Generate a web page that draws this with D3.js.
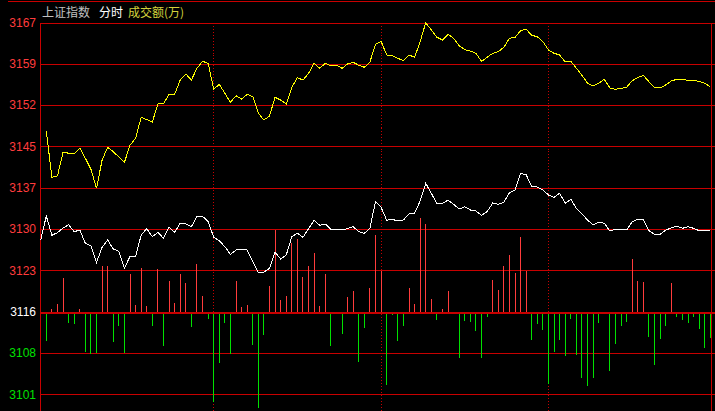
<!DOCTYPE html>
<html>
<head>
<meta charset="utf-8">
<script src="https://cdn.jsdelivr.net/npm/d3@7"></script>
<style>
  html, body { margin: 0; padding: 0; background: #000; overflow: hidden; }
  svg { display: block; }
  .axis text { font-family: "Liberation Sans", Arial, sans-serif; font-size: 12px; }
  .title { font-family: "Noto Sans CJK SC", sans-serif; font-size: 12px; }
</style>
</head>
<body>
<div class="chart"></div>
<script>
// price axis: values of each gridline and the label shown for it (bottom to top)
var tickValues = [3100.95, 3108.25, 3115.55, 3122.85, 3130.15, 3137.45, 3144.75, 3152.05, 3159.35, 3166.65];
var tickLabels = ["3101", "3108", "3116", "3123", "3130", "3137", "3145", "3152", "3159", "3167"];
var baseValue = 3115.55;

// minutes after the open where the session markers sit
var sessionMarks = [60, 120, 180];

// yellow line [minute, value]
var yellowLine = [[0,3147.48],[2,3139.30],[4,3139.53],[6,3143.71],[10,3143.41],[12,3144.47],[14,3142.65],[16,3140.71],[18,3137.35],[20,3142.35],[22,3144.60],[24,3143.82],[28,3141.95],[30,3144.95],[32,3146.19],[34,3149.90],[38,3149.07],[40,3152.25],[42,3152.25],[44,3153.96],[46,3153.96],[48,3156.49],[50,3157.55],[52,3156.49],[54,3158.56],[56,3159.79],[58,3159.44],[60,3154.85],[62,3155.73],[64,3154.14],[66,3152.55],[68,3153.71],[70,3153.13],[72,3153.96],[74,3153.54],[76,3150.60],[78,3149.42],[80,3150.13],[82,3153.43],[84,3152.95],[86,3152.25],[88,3155.20],[90,3156.90],[92,3156.49],[94,3157.67],[96,3159.44],[98,3158.56],[100,3159.44],[102,3158.96],[104,3159.09],[106,3158.56],[108,3159.32],[110,3159.62],[112,3159.09],[114,3158.73],[116,3159.67],[118,3162.80],[120,3163.33],[122,3160.91],[124,3160.78],[126,3160.32],[128,3159.90],[130,3160.91],[132,3160.50],[134,3163.26],[136,3166.61],[138,3165.32],[140,3164.05],[142,3163.56],[144,3164.56],[146,3163.86],[148,3162.55],[150,3161.84],[152,3161.61],[154,3161.21],[156,3159.79],[158,3160.50],[160,3161.21],[162,3161.49],[164,3162.27],[166,3163.86],[168,3164.03],[170,3165.20],[172,3165.45],[174,3164.39],[176,3164.14],[178,3163.26],[180,3161.79],[182,3161.21],[184,3160.91],[186,3159.67],[188,3159.79],[190,3158.56],[192,3157.32],[194,3155.91],[196,3155.43],[198,3155.91],[200,3156.61],[202,3155.08],[204,3154.85],[206,3155.02],[208,3155.20],[210,3156.37],[212,3156.90],[214,3157.32],[216,3156.19],[218,3155.20],[220,3155.08],[222,3155.61],[224,3156.31],[226,3156.61],[228,3156.61],[230,3156.44],[232,3156.37],[234,3156.26],[236,3155.91],[238,3155.31]];

// white line [minute, value]
var whiteLine = [[-2,3128.22],[0,3132.46],[2,3129.05],[4,3129.51],[6,3130.34],[8,3130.92],[10,3129.68],[12,3129.98],[14,3127.63],[16,3127.21],[18,3124.27],[20,3126.93],[22,3128.22],[24,3126.62],[26,3126.22],[28,3123.21],[30,3125.33],[32,3125.26],[34,3129.10],[36,3130.21],[38,3128.80],[40,3129.58],[42,3128.52],[44,3130.46],[46,3129.58],[48,3131.17],[50,3131.04],[52,3130.57],[54,3132.40],[56,3132.40],[58,3131.48],[60,3128.69],[62,3128.09],[64,3127.03],[66,3125.69],[68,3126.45],[72,3126.45],[74,3124.38],[76,3122.51],[78,3122.56],[80,3123.21],[82,3126.04],[84,3124.86],[86,3125.56],[88,3128.80],[90,3129.40],[92,3128.69],[94,3130.21],[96,3131.70],[98,3130.81],[100,3131.04],[102,3130.11],[107,3130.11],[110,3130.57],[112,3129.68],[114,3129.40],[116,3130.28],[118,3135.05],[120,3133.99],[122,3131.70],[124,3131.87],[126,3131.57],[128,3131.75],[130,3132.81],[132,3132.93],[134,3135.11],[136,3138.23],[138,3136.47],[140,3134.61],[142,3134.70],[144,3135.28],[146,3134.52],[148,3133.69],[150,3134.10],[152,3133.52],[154,3133.34],[156,3132.60],[158,3133.22],[160,3134.75],[162,3134.52],[164,3134.88],[166,3136.57],[168,3137.05],[170,3140.00],[172,3139.75],[174,3137.63],[176,3137.58],[178,3137.05],[180,3136.17],[182,3135.76],[184,3136.47],[186,3134.70],[188,3135.41],[190,3133.82],[192,3132.81],[194,3131.75],[196,3130.87],[198,3131.34],[200,3131.17],[202,3129.81],[204,3130.11],[206,3130.11],[208,3129.98],[210,3131.45],[212,3131.87],[214,3131.87],[216,3129.86],[218,3129.22],[220,3129.22],[222,3129.98],[226,3130.69],[228,3130.28],[230,3130.57],[232,3130.28],[234,3129.86],[236,3129.98],[238,3129.98]];

// bars, one every 2 minutes, measured from the base line (+ red, - green)
var barValues = [-5.2,0.4,1.3,5.9,-2.0,-2.2,0.4,-7.1,-7.5,-7.3,
  8.1,8.0,-5.3,-2.5,-7.3,6.6,1.2,7.7,1.0,-2.5,
  7.5,-6.0,5.4,1.5,6.6,5.0,-2.7,8.4,2.7,-1.3,
  -15.9,-9.0,-2.0,-7.5,5.4,0.8,1.1,-5.9,-17.0,-4.1,
  4.5,14.5,2.0,2.7,12.1,12.8,6.2,8.0,10.3,1.0,
  6.6,-6.0,0,-3.9,2.6,3.6,-8.9,-2.9,4.2,13.5,
  7.2,-12.9,-0.6,-5.2,-2.5,4.2,1.3,16.5,15.5,2.2,
  -1.4,0.4,3.7,-0.4,-8.1,-1.6,-1.8,-3.4,-8.2,-0.9,
  5.6,3.8,8.1,10.0,6.8,13.2,7.2,-5.0,-2.2,-3.2,
  -12.8,-7.1,-5.0,-7.8,-1.3,-7.6,-11.7,-13.1,-11.7,-2.0,
  -0.2,-10.5,-5.7,-2.5,-1.8,9.3,5.4,5.2,-4.5,-9.4,
  -4.8,-2.5,5.0,-0.9,-1.4,-2.0,-0.9,-3.0,-6.4,-4.6];
var barMinutes = d3.range(0, 240, 2);

var svgWidth = 715;
var svgHeight = 411;
var plotLeft = 40;
var plotRight = 711;
var gridRed = "#c80000";

var svg = d3.select(".chart")
  .append("svg")
  .attr("width", svgWidth)
  .attr("height", svgHeight)
  .style("background", "#000");

// scales
var xScale = d3.scaleLinear().domain([0, 240]).range([46.3, 715.9]);
var yScale = d3.scaleLinear().domain([tickValues[0], tickValues[9]]).range([394.3, 22.5]);

// top frame line
svg.append("line")
  .attr("x1", 8).attr("x2", svgWidth)
  .attr("y1", 1.5).attr("y2", 1.5)
  .attr("stroke", gridRed)
  .attr("shape-rendering", "crispEdges");

// horizontal gridlines
svg.append("g")
  .selectAll("line")
  .data(tickValues)
  .enter()
  .append("line")
  .attr("x1", plotLeft)
  .attr("x2", svgWidth)
  .attr("y1", function(d) { return Math.round(yScale(d)) + 0.5; })
  .attr("y2", function(d) { return Math.round(yScale(d)) + 0.5; })
  .attr("stroke", gridRed)
  .attr("shape-rendering", "crispEdges");

// dotted session markers
svg.append("g")
  .selectAll("line")
  .data(sessionMarks)
  .enter()
  .append("line")
  .attr("x1", function(d) { return Math.floor(xScale(d)) + 0.5; })
  .attr("x2", function(d) { return Math.floor(xScale(d)) + 0.5; })
  .attr("y1", yScale(tickValues[9]))
  .attr("y2", svgHeight)
  .attr("stroke", gridRed)
  .attr("stroke-dasharray", "1,2")
  .attr("shape-rendering", "crispEdges");

// left and right borders
svg.append("g")
  .selectAll("line")
  .data([plotLeft, plotRight])
  .enter()
  .append("line")
  .attr("x1", function(d) { return d + 0.5; })
  .attr("x2", function(d) { return d + 0.5; })
  .attr("y1", yScale(tickValues[9]))
  .attr("y2", svgHeight)
  .attr("stroke", gridRed)
  .attr("shape-rendering", "crispEdges");

// bars
var baseY = yScale(baseValue);
svg.append("g")
  .selectAll("rect")
  .data(barValues)
  .enter()
  .append("rect")
  .attr("x", function(d, i) { return Math.floor(xScale(barMinutes[i])); })
  .attr("width", 1)
  .attr("y", function(d) { return d >= 0 ? yScale(baseValue + d) : baseY; })
  .attr("height", function(d) { return Math.abs(yScale(baseValue + d) - baseY); })
  .attr("fill", function(d) { return d >= 0 ? "#ff3c3c" : "#00e000"; })
  .attr("shape-rendering", "crispEdges");

// thick base line
svg.append("rect")
  .attr("x", plotLeft)
  .attr("width", svgWidth - plotLeft)
  .attr("y", Math.round(baseY))
  .attr("height", 2)
  .attr("fill", gridRed)
  .attr("shape-rendering", "crispEdges");

// price lines
var line = d3.line()
  .x(function(d) { return xScale(d[0]); })
  .y(function(d) { return yScale(d[1]); });

svg.append("path")
  .datum(whiteLine)
  .attr("d", line)
  .attr("fill", "none")
  .attr("stroke", "#ffffff")
  .attr("stroke-width", 1)
  .attr("shape-rendering", "crispEdges");

svg.append("path")
  .datum(yellowLine)
  .attr("d", line)
  .attr("fill", "none")
  .attr("stroke", "#ffff00")
  .attr("stroke-width", 1)
  .attr("shape-rendering", "crispEdges");

// left axis labels
var leftAxis = d3.axisLeft(yScale)
  .tickValues(tickValues)
  .tickSize(0)
  .tickPadding(4)
  .tickFormat(function(d, i) { return tickLabels[i]; });

var axisG = svg.append("g")
  .attr("class", "axis")
  .attr("transform", "translate(" + plotLeft + ",0)")
  .call(leftAxis);

axisG.select(".domain").remove();
axisG.selectAll("text")
  .attr("fill", function(d) {
    if (Math.abs(d - baseValue) < 0.01) return "#ffffff";
    return d < baseValue ? "#00e000" : "#ff3c3c";
  });

// title
var titles = [
  {text: "上证指数", x: 42, color: "#c0c0c0"},
  {text: "分时", x: 99, color: "#ffffff"},
  {text: "成交额(万)", x: 128, color: "#d2d23c"}
];
svg.selectAll(".title")
  .data(titles)
  .enter()
  .append("text")
  .attr("class", "title")
  .attr("x", function(d) { return d.x; })
  .attr("y", 17)
  .attr("fill", function(d) { return d.color; })
  .text(function(d) { return d.text; });
</script>
</body>
</html>
